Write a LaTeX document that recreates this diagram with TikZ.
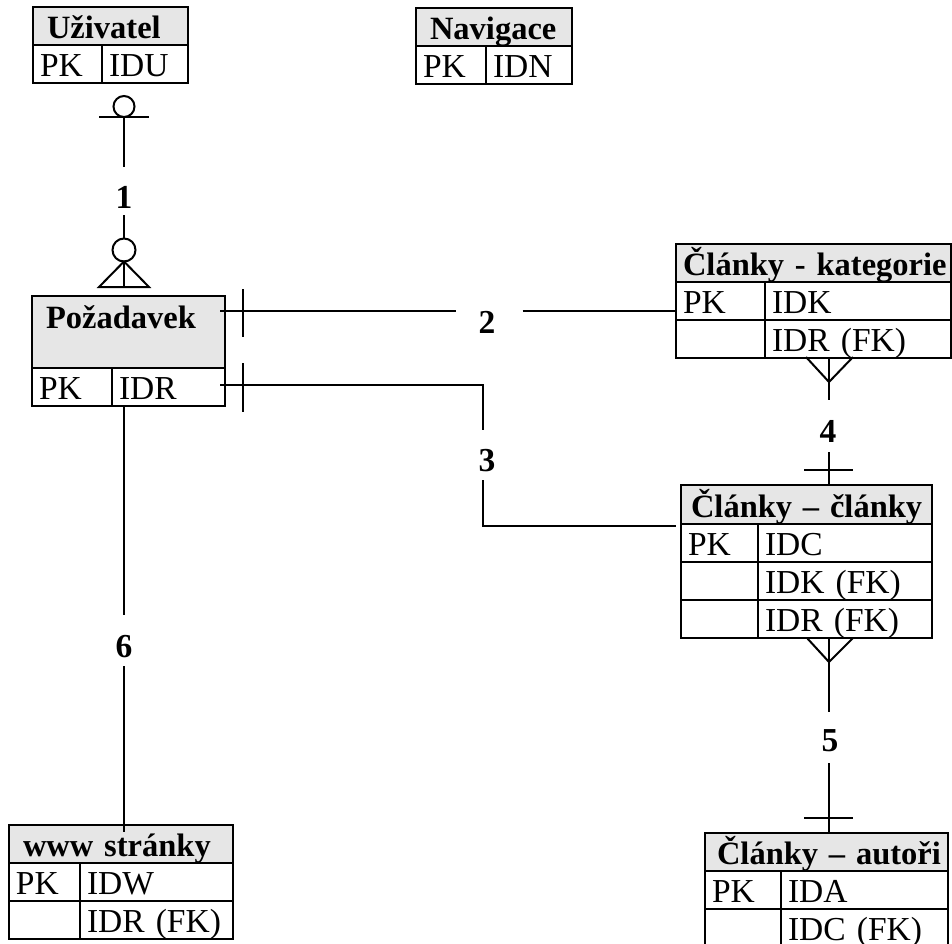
\documentclass[tikz,border=0pt]{standalone}
\usepackage{fontspec}
\setmainfont{Liberation Serif}
\usetikzlibrary{calc}
\definecolor{hdrgray}{RGB}{230,230,230}
\newcommand{\erfont}{\fontsize{33.5}{40}\selectfont}
\newcommand{\erhfont}{\fontsize{32.5}{40}\selectfont\bfseries}

\tikzset{
  cell/.style={draw, line width=2.6pt, anchor=north west, outer sep=0pt,
    inner xsep=7pt, inner ysep=0pt, text height=31pt, text depth=7pt,
    align=left, font=\erfont},
  hcell/.style={cell, fill=hdrgray, font=\erhfont, inner xsep=14pt},
  rel/.style={line width=2pt},
  relnum/.style={inner sep=0pt, font=\erfont\bfseries},
}

\begin{document}
\begin{tikzpicture}[x=1pt, y=-1pt]
  \useasboundingbox (0,0) rectangle (952,943);
  \clip (0,0) rectangle (952,943);

  % Uzivatel
  \node[hcell, text width=127pt] (uz) at (33,7) {Uživatel};
  \node[cell, text width=55pt] (uz-pk) at (uz.south west) {PK};
  \node[cell, text width=72pt] (uz-id) at (uz-pk.north east) {IDU};

  % Navigace
  \node[hcell, text width=128pt] (nav) at (416,8) {Navigace};
  \node[cell, text width=56pt] (nav-pk) at (nav.south west) {PK};
  \node[cell, text width=72pt] (nav-id) at (nav-pk.north east) {IDN};

  % Pozadavek
  \node[hcell, text width=165pt, text height=32pt, text depth=40pt] (poz) at (32,296) {Požadavek};
  \node[cell, text width=66pt] (poz-pk) at (poz.south west) {PK};
  \node[cell, text width=99pt] (poz-id) at (poz-pk.north east) {IDR};

  % Clanky - kategorie
  \node[hcell, inner xsep=7pt, text width=261pt] (kat) at (676,244) {\mbox{Články - kategorie}};
  \node[cell, text width=75pt] (kat-pk) at (kat.south west) {PK};
  \node[cell, text width=172pt] (kat-id) at (kat-pk.north east) {IDK};
  \node[cell, text width=75pt] (kat-e) at (kat-pk.south west) {};
  \node[cell, text width=172pt] (kat-fk) at (kat-e.north east) {IDR (FK)};

  % Clanky - clanky
  \node[hcell, inner xsep=10pt, text width=231pt, text height=32pt] (cl) at (681,485) {\mbox{Články – články}};
  \node[cell, text width=63pt] (cl-pk) at (cl.south west) {PK};
  \node[cell, text width=160pt] (cl-id) at (cl-pk.north east) {IDC};
  \node[cell, text width=63pt] (cl-e1) at (cl-pk.south west) {};
  \node[cell, text width=160pt] (cl-fk1) at (cl-e1.north east) {IDK (FK)};
  \node[cell, text width=63pt] (cl-e2) at (cl-e1.south west) {};
  \node[cell, text width=160pt] (cl-fk2) at (cl-e2.north east) {IDR (FK)};

  % Clanky - autori
  \node[hcell, inner xsep=12pt, text width=219pt] (aut) at (705,833) {\mbox{Články – autoři}};
  \node[cell, text width=62pt] (aut-pk) at (aut.south west) {PK};
  \node[cell, text width=153pt] (aut-id) at (aut-pk.north east) {IDA};
  \node[cell, text width=62pt] (aut-e) at (aut-pk.south west) {};
  \node[cell, text width=153pt] (aut-fk) at (aut-e.north east) {IDC (FK)};

  % www stranky
  \node[hcell, text width=196pt] (www) at (9,825) {www stránky};
  \node[cell, text width=57pt] (www-pk) at (www.south west) {PK};
  \node[cell, text width=139pt] (www-id) at (www-pk.north east) {IDW};
  \node[cell, text width=57pt] (www-e) at (www-pk.south west) {};
  \node[cell, text width=139pt] (www-fk) at (www-e.north east) {IDR (FK)};

  % relation 1
  \coordinate (r1t) at (124,117);
  \coordinate (r1c) at (124,250);
  \node[relnum] (n1) at (124,197) {1};
  \draw[rel] ($(r1t)+(0,-10.5)$) circle[radius=10.5];
  \draw[rel] ($(r1t)+(-25,0)$) -- ($(r1t)+(25,0)$);
  \draw[rel] (r1t) -- ($(n1.north)+(0,-19)$);
  \draw[rel] ($(n1.south)+(0,7)$) -- ($(r1c)+(0,-11.5)$);
  \draw[rel] (r1c) circle[radius=11.5];
  \draw[rel] ($(r1c)+(0,11.5)$) -- ($(r1c)+(0,37)$);
  \draw[rel] ($(r1c)+(0,11.5)$) -- ($(r1c)+(-25,37)$) -- ($(r1c)+(25,37)$) -- cycle;

  % relation 2
  \coordinate (r2a) at (220,311);
  \node[relnum] (n2) at (487,322) {2};
  \draw[rel] (r2a) -- ($(r2a -| n2.west)+(-22,0)$);
  \draw[rel] ($(r2a -| n2.east)+(27,0)$) -- (r2a -| kat.west);
  \draw[rel] ($(r2a)+(23,-22)$) -- ($(r2a)+(23,26)$);

  % relation 3
  \coordinate (r3a) at (220,385);
  \coordinate (r3b) at (483,430);
  \coordinate (r3c) at (483,480);
  \node[relnum] (n3) at (487,461) {3};
  \draw[rel] (r3a) -| (r3b);
  \draw[rel] (r3c) |- ($(cl.south west)+(-5,2)$);
  \draw[rel] ($(r3a)+(23,-22)$) -- ($(r3a)+(23,27)$);

  % relation 4
  \coordinate (r4) at (829,357);
  \node[relnum] (n4) at (828,431) {4};
  \draw[rel] ($(r4)+(-23,0)$) -- ($(r4)+(0,25)$) -- ($(r4)+(24,0)$);
  \draw[rel] (r4) -- ($(r4)+(0,43)$);
  \draw[rel] ($(n4.south)+(1,10)$) -- (r4 |- cl.north);
  \draw[rel] ($(r4 |- cl.north)+(-25,-15)$) -- ($(r4 |- cl.north)+(24,-15)$);

  % relation 5
  \coordinate (r5) at (829,638);
  \node[relnum] (n5) at (830,741) {5};
  \draw[rel] ($(r5)+(-22,0)$) -- ($(r5)+(0,24)$) -- ($(r5)+(24,0)$);
  \draw[rel] (r5) -- ($(r5)+(0,74)$);
  \draw[rel] ($(n5.south)+(-1,11)$) -- (r5 |- aut.north);
  \draw[rel] ($(r5 |- aut.north)+(-25,-15)$) -- ($(r5 |- aut.north)+(24,-15)$);

  % relation 6
  \coordinate (r6) at (124,407);
  \node[relnum] (n6) at (124,647) {6};
  \draw[rel] (r6) -- ($(n6.north)+(0,-21)$);
  \draw[rel] ($(n6.south)+(0,8)$) -- ($(r6 |- www.north)+(0,7)$);
\end{tikzpicture}
\end{document}
